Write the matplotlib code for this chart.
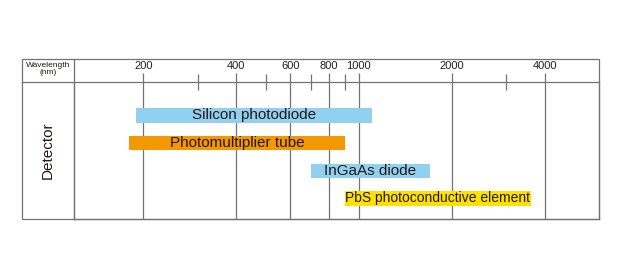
import matplotlib
matplotlib.use("Agg")
import matplotlib.pyplot as plt
from matplotlib.ticker import FixedLocator, FixedFormatter, NullFormatter
from matplotlib.lines import Line2D
from matplotlib.patches import Rectangle

plt.rcParams['font.family'] = ['Liberation Sans', 'DejaVu Sans']

# 检测器及其波长范围 (nm)
detectors = ["Silicon photodiode", "Photomultiplier tube", "InGaAs diode",
             "PbS photoconductive element"]
wl_low = [190, 180, 700, 900]
wl_high = [1100, 900, 1700, 3600]
bar_colors = ["#92d0f0", "#f39800", "#92d0f0", "#ffe100"]
label_sizes = [11, 11, 11, 10]

# 刻度
major_ticks = [200, 400, 600, 800, 1000, 2000, 4000]
major_labels = ["200", "400", "600", "800", "1000", "2000", "4000"]
minor_ticks = [300, 500, 700, 900, 3000]

gray = "#737373"
lw = 0.9

fig = plt.figure(figsize=(6.2, 2.79), dpi=100)

# 外框位置 (figure 坐标)
ox0, ox1 = 22.3 / 620, 599.3 / 620
oy0, oy1 = 1 - 219 / 279, 1 - 59 / 279
bx0 = 73.7 / 620
by1 = 1 - 82.3 / 279

ax = fig.add_axes([bx0, oy0, ox1 - bx0, by1 - oy0])
ax.set_xscale("log")
ax.set_xlim(119, 6016)
ax.set_ylim(3.74, -1.19)

ax.xaxis.set_major_locator(FixedLocator(major_ticks))
ax.xaxis.set_major_formatter(FixedFormatter(major_labels))
ax.xaxis.set_minor_locator(FixedLocator(minor_ticks))
ax.xaxis.set_minor_formatter(NullFormatter())
ax.tick_params(axis="x", which="major", top=True, bottom=False, labeltop=True,
               labelbottom=False, direction="out", length=6.2, width=lw,
               color=gray, pad=2.0, labelsize=8, labelcolor="#222222")
ax.tick_params(axis="x", which="minor", top=True, bottom=False,
               direction="inout", length=11, width=lw, color=gray)
ax.set_yticks([])
for s in ax.spines.values():
    s.set_color(gray)
    s.set_linewidth(lw)

ax.grid(axis="x", which="major", color=gray, linewidth=lw)
ax.set_axisbelow(True)

# 绘制条形
for i, name in enumerate(detectors):
    lo, hi = wl_low[i], wl_high[i]
    ax.barh(i, hi - lo, left=lo, height=0.52, color=bar_colors[i], zorder=2)
    ax.text((lo * hi) ** 0.5, i, name, ha="center", va="center",
            fontsize=label_sizes[i], color="#231815", zorder=3)

# 外框和表头
fig.add_artist(Rectangle((ox0, oy0), ox1 - ox0, oy1 - oy0, fill=False,
                         edgecolor=gray, linewidth=lw,
                         transform=fig.transFigure))
fig.add_artist(Line2D([bx0, bx0], [oy0, oy1], color=gray, linewidth=lw,
                      transform=fig.transFigure))
fig.add_artist(Line2D([ox0, bx0], [by1, by1], color=gray, linewidth=lw,
                      transform=fig.transFigure))

fig.text((ox0 + bx0) / 2, (by1 + oy1) / 2 + 0.005, "Wavelength\n(nm)",
         ha="center", va="center", fontsize=6, linespacing=0.95,
         color="#231815")
fig.text((ox0 + bx0) / 2 - 0.001, (oy0 + by1) / 2, "Detector", rotation=90,
         ha="center", va="center", fontsize=11, color="#231815")

fig.savefig("out.png", dpi=100)
